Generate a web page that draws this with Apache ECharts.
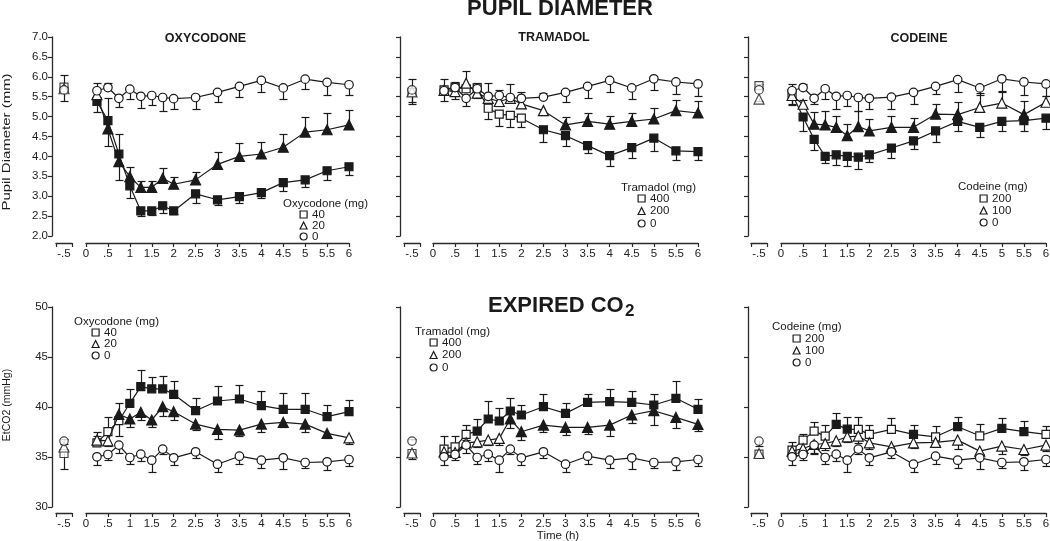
<!DOCTYPE html>
<html><head><meta charset="utf-8">
<script src="https://cdn.jsdelivr.net/npm/echarts@6/dist/echarts.min.js"></script>
<style>html,body{margin:0;padding:0;background:#fff}#c{width:1050px;height:541px}</style>
</head><body><div id="c"></div>
<script>
// ---------- DATA ----------
const TIMES = [0.25, 0.5, 0.75, 1, 1.25, 1.5, 1.75, 2, 2.5, 3, 3.5, 4, 4.5, 5, 5.5, 6];
const BASELINE_TIME = -0.5;
const BASE_LABEL = '-.5';
const X_TICK_LABELS = ['0', '.5', '1', '1.5', '2', '2.5', '3', '3.5', '4', '4.5', '5', '5.5', '6'];
const PUPIL_TICK_LABELS = ['2.0', '2.5', '3.0', '3.5', '4.0', '4.5', '5.0', '5.5', '6.0', '6.5', '7.0'];
const CO2_TICK_LABELS = ['30', '35', '40', '45', '50'];

// Pupil diameter – Oxycodone (40, 20, 0 mg)
const oxyPupil40 = [5.38, 4.90, 4.06, 3.26, 2.63, 2.63, 2.76, 2.63, 3.06, 2.91, 2.99, 3.09, 3.34, 3.41, 3.64, 3.74];
const oxyPupil40Err = [-0.27, 0.56, 0.51, -0.31, -0.13, -0.10, -0.17, -0.08, -0.22, -0.13, -0.15, -0.14, -0.22, -0.17, -0.23, -0.20];
const oxyPupil40Fill = [1, 1, 1, 1, 1, 1, 1, 1, 1, 1, 1, 1, 1, 1, 1, 1];
const oxyPupil20 = [5.55, 4.69, 3.87, 3.49, 3.22, 3.22, 3.45, 3.30, 3.41, 3.80, 4.00, 4.06, 4.23, 4.61, 4.67, 4.79];
const oxyPupil20Err = [-0.15, -0.42, -0.46, 0.24, 0.17, 0.17, 0.25, 0.18, 0.21, 0.30, 0.33, 0.31, 0.33, 0.39, 0.42, 0.38];
const oxyPupil20Fill = [0, 1, 1, 1, 1, 1, 1, 1, 1, 1, 1, 1, 1, 1, 1, 1];
const oxyPupil0 = [5.65, 5.73, 5.46, 5.69, 5.51, 5.53, 5.48, 5.45, 5.48, 5.61, 5.76, 5.91, 5.72, 5.94, 5.86, 5.80];
const oxyPupil0Err = [0.19, 0.12, -0.22, -0.24, -0.30, -0.23, -0.35, -0.26, -0.29, -0.25, -0.28, -0.28, -0.28, -0.25, -0.31, -0.25];
const oxyPupil0Fill = [0, 0, 0, 0, 0, 0, 0, 0, 0, 0, 0, 0, 0, 0, 0, 0];
const oxyPupilBase = [5.74, 5.70, 5.67];
const oxyPupilBaseErr = [0.31, 0.05, -0.29];

// Pupil diameter – Tramadol (400, 200, 0 mg)
const traPupil400 = [5.67, 5.74, 5.70, 5.72, 5.21, 5.06, 5.03, 4.96, 4.67, 4.52, 4.27, 4.02, 4.22, 4.46, 4.14, 4.12];
const traPupil400Err = [0.27, 0.12, 0.10, 0.12, -0.27, -0.29, -0.28, -0.23, -0.30, -0.25, -0.19, -0.26, -0.27, -0.32, -0.23, -0.21];
const traPupil400Fill = [0, 0, 0, 0, 0, 0, 0, 0, 1, 1, 1, 1, 1, 1, 1, 1];
const traPupil200 = [5.66, 5.63, 5.84, 5.59, 5.46, 5.38, 5.46, 5.32, 5.15, 4.79, 4.88, 4.81, 4.88, 4.94, 5.15, 5.09];
const traPupil200Err = [-0.26, -0.18, 0.30, -0.12, -0.10, -0.12, -0.10, -0.10, -0.10, 0.21, 0.21, 0.21, 0.22, 0.27, 0.27, 0.29];
const traPupil200Fill = [0, 0, 0, 0, 0, 0, 0, 0, 0, 1, 1, 1, 1, 1, 1, 1];
const traPupil0 = [5.65, 5.73, 5.46, 5.70, 5.51, 5.53, 5.48, 5.46, 5.49, 5.61, 5.76, 5.91, 5.72, 5.95, 5.87, 5.82];
const traPupil0Err = [0.10, 0.10, -0.20, 0.10, 0.33, 0.13, 0.35, 0.16, 0.10, -0.25, -0.30, -0.28, -0.28, -0.28, -0.30, -0.31];
const traPupil0Fill = [0, 0, 0, 0, 0, 0, 0, 0, 0, 0, 0, 0, 0, 0, 0, 0];
const traPupilBase = [5.61, 5.62, 5.67];
const traPupilBaseErr = [-0.29, -0.25, 0.27];

// Pupil diameter – Codeine (200, 100, 0 mg)
const codPupil200 = [5.57, 4.99, 4.43, 4.00, 4.04, 4.00, 3.98, 4.04, 4.21, 4.39, 4.64, 4.88, 4.73, 4.88, 4.90, 4.96];
const codPupil200Err = [-0.25, -0.36, -0.27, -0.17, -0.25, -0.24, -0.30, -0.19, -0.26, -0.21, -0.27, -0.25, -0.23, -0.23, -0.26, -0.28];
const codPupil200Fill = [0, 1, 1, 1, 1, 1, 1, 1, 1, 1, 1, 1, 1, 1, 1, 1];
const codPupil100 = [5.53, 5.31, 4.81, 4.79, 4.73, 4.52, 4.75, 4.64, 4.73, 4.73, 5.06, 5.05, 5.23, 5.34, 5.05, 5.36];
const codPupil100Err = [-0.23, 0.10, 0.30, 0.34, 0.29, 0.30, 0.38, 0.30, 0.29, 0.23, 0.26, 0.31, 0.36, 0.29, 0.33, 0.16];
const codPupil100Fill = [0, 0, 1, 1, 1, 1, 1, 1, 1, 1, 1, 1, 0, 0, 1, 0];
const codPupil0 = [5.65, 5.73, 5.46, 5.70, 5.51, 5.53, 5.48, 5.46, 5.49, 5.61, 5.76, 5.93, 5.72, 5.95, 5.87, 5.82];
const codPupil0Err = [0.18, 0.10, -0.15, -0.27, -0.31, -0.26, -0.35, -0.28, -0.30, -0.29, -0.20, -0.30, -0.17, -0.30, -0.32, -0.29];
const codPupil0Fill = [0, 0, 0, 0, 0, 0, 0, 0, 0, 0, 0, 0, 0, 0, 0, 0];
const codPupilBase = [5.78, 5.44, 5.67];
const codPupilBaseErr = [0.05, -0.05, 0.05];

// Expired CO2 – Oxycodone (40, 20, 0 mg)
const oxyCo240 = [36.42, 37.53, 38.63, 40.37, 42.04, 41.81, 41.81, 41.27, 39.63, 40.60, 40.80, 40.13, 39.77, 39.77, 39.03, 39.53];
const oxyCo240Err = [0.67, 1.50, -1.51, 1.40, 1.67, 1.23, 1.30, 1.37, 1.24, 1.51, 1.41, 1.48, 1.60, 1.60, 1.17, 1.17];
const oxyCo240Fill = [0, 0, 0, 1, 1, 1, 1, 1, 1, 1, 1, 1, 1, 1, 1, 1];
const oxyCo220 = [36.69, 36.62, 39.26, 38.80, 39.47, 38.70, 40.03, 39.53, 38.29, 37.76, 37.69, 38.29, 38.46, 38.29, 37.36, 36.92];
const oxyCo220Err = [0.84, -0.50, 1.11, -0.84, -0.77, -0.74, -0.93, -0.83, -0.60, -1.00, -0.57, -0.76, -0.50, -0.76, -0.50, -0.57];
const oxyCo220Fill = [0, 0, 1, 1, 1, 1, 1, 1, 1, 1, 1, 1, 1, 1, 1, 0];
const oxyCo20 = [35.02, 35.25, 36.19, 34.95, 35.28, 34.68, 35.79, 34.92, 35.52, 34.28, 35.08, 34.68, 34.92, 34.45, 34.52, 34.75];
const oxyCo20Err = [-0.82, -0.50, -0.74, -0.67, -0.66, -1.17, -0.44, -0.74, -0.60, -0.77, -0.73, -0.73, -1.07, -0.50, -0.84, -0.64];
const oxyCo20Fill = [0, 0, 0, 0, 0, 0, 0, 0, 0, 0, 0, 0, 0, 0, 0, 0];
const oxyCo2Base = [35.35, 36.00, 36.59];
const oxyCo2BaseErr = [-1.50, 0.30, 0.20];

// Expired CO2 – Tramadol (400, 200, 0 mg)
const traCo2400 = [35.79, 36.02, 37.26, 37.59, 38.80, 38.60, 39.60, 39.20, 40.03, 39.36, 40.47, 40.54, 40.47, 40.20, 40.87, 39.77];
const traCo2400Err = [1.33, 1.10, 0.93, 1.21, 1.80, 1.27, 1.27, 1.00, 1.27, 1.01, 0.83, 1.27, 1.17, 1.07, 1.77, 1.03];
const traCo2400Fill = [0, 0, 0, 1, 1, 1, 1, 1, 1, 1, 1, 1, 1, 1, 1, 1];
const traCo2200 = [35.52, 35.45, 36.42, 36.52, 36.69, 36.86, 38.80, 37.53, 38.19, 37.96, 37.96, 38.19, 39.20, 39.63, 38.96, 38.26];
const traCo2200Err = [-0.30, -0.30, 0.30, -0.50, -0.50, -0.67, -0.94, -0.84, -0.66, -0.77, -0.67, -1.07, -0.84, -1.44, -1.10, -0.63];
const traCo2200Fill = [0, 0, 0, 0, 0, 0, 1, 1, 1, 1, 1, 1, 1, 1, 1, 1];
const traCo20 = [35.02, 35.25, 36.19, 34.95, 35.28, 34.68, 35.79, 34.92, 35.52, 34.28, 35.08, 34.68, 34.92, 34.45, 34.52, 34.75];
const traCo20Err = [-0.82, -0.50, -0.74, -0.67, -0.66, -1.17, -0.44, -0.74, -0.60, -0.77, -0.73, -0.73, -1.07, -0.50, -0.84, -0.64];
const traCo20Fill = [0, 0, 0, 0, 0, 0, 0, 0, 0, 0, 0, 0, 0, 0, 0, 0];
const traCo2Base = [35.35, 35.40, 36.59];
const traCo2BaseErr = [-0.50, -0.30, 0.20];

// Expired CO2 – Codeine (200, 100, 0 mg)
const codCo2200 = [35.69, 36.69, 37.59, 37.09, 38.26, 37.79, 37.76, 37.26, 37.76, 37.26, 37.02, 38.03, 37.12, 37.86, 37.53, 37.26];
const codCo2200Err = [0.83, 0.60, 0.87, 1.10, 1.17, 1.17, 1.27, 0.93, 1.10, 0.93, 1.10, 1.00, 1.17, 1.00, 1.07, 0.86];
const codCo2200Fill = [0, 0, 0, 0, 1, 1, 0, 0, 0, 1, 0, 1, 0, 1, 1, 0];
const codCo2100 = [35.59, 35.85, 36.25, 36.35, 36.62, 37.02, 37.09, 36.42, 36.02, 36.42, 36.46, 36.69, 35.59, 36.09, 35.75, 36.19];
const codCo2100Err = [-0.30, -0.50, -0.90, -0.60, -0.50, -0.50, -0.73, -0.63, -0.40, -0.50, -0.30, -0.84, -0.30, -0.74, -0.55, -0.57];
const codCo2100Fill = [0, 0, 0, 0, 0, 0, 0, 0, 0, 0, 0, 0, 0, 0, 0, 0];
const codCo20 = [35.02, 35.25, 36.19, 34.95, 35.28, 34.68, 35.79, 34.92, 35.52, 34.28, 35.08, 34.68, 34.92, 34.45, 34.52, 34.75];
const codCo20Err = [-0.82, -0.50, -0.74, -0.67, -0.66, -1.17, -0.44, -0.74, -0.60, -0.77, -0.73, -0.73, -1.07, -0.50, -0.84, -0.64];
const codCo20Fill = [0, 0, 0, 0, 0, 0, 0, 0, 0, 0, 0, 0, 0, 0, 0, 0];
const codCo2Base = [35.28, 35.35, 36.59];
const codCo2BaseErr = [-0.20, -0.20, -0.45];

// Dose labels and texts
const OXY_DOSES = ['40', '20', '0'];
const TRA_DOSES = ['400', '200', '0'];
const COD_DOSES = ['200', '100', '0'];
const DRUG_TITLES = ['OXYCODONE', 'TRAMADOL', 'CODEINE'];
const LEGEND_TITLES = ['Oxycodone (mg)', 'Tramadol (mg)', 'Codeine (mg)'];

// ---------- BUILD ----------
const FONT = '"Liberation Sans", Arial, Helvetica, sans-serif';
const INK = '#1a1a1a';
const AXC = '#2a2a2a';
const SYMS = ['rect', 'triangle', 'circle'];
const SYM_SIZE = { rect: 8, triangle: 10, circle: 8.5 };

const cols = [
  { baseLeft: 56, mainLeft: 86, mainWidth: 263, yOff: 4, yLabels: true },
  { baseLeft: 404, mainLeft: 433, mainWidth: 265, yOff: 4, yLabels: false },
  { baseLeft: 751, mainLeft: 781, mainWidth: 265, yOff: 3, yLabels: false }
];
const rows = [
  { top: 37, height: 199, xOff: 7, min: 2, max: 7, interval: 0.5, labels: PUPIL_TICK_LABELS },
  { top: 307, height: 200, xOff: 6, min: 30, max: 50, interval: 5, labels: CO2_TICK_LABELS }
];

function grp(name, dose, vals, err, fill) { return { name, dose, vals, err, fill }; }
const panels = [
  { doses: OXY_DOSES, base: oxyPupilBase, baseErr: oxyPupilBaseErr, legend: { left: 299.5, top: 208.5, gap: -1, tx: 283, ty: 204 },
    groups: [grp('oxyP40', '40', oxyPupil40, oxyPupil40Err, oxyPupil40Fill), grp('oxyP20', '20', oxyPupil20, oxyPupil20Err, oxyPupil20Fill), grp('oxyP0', '0', oxyPupil0, oxyPupil0Err, oxyPupil0Fill)] },
  { doses: TRA_DOSES, base: traPupilBase, baseErr: traPupilBaseErr, legend: { left: 637.5, top: 192.5, gap: 0.5, tx: 621, ty: 188 },
    groups: [grp('traP400', '400', traPupil400, traPupil400Err, traPupil400Fill), grp('traP200', '200', traPupil200, traPupil200Err, traPupil200Fill), grp('traP0', '0', traPupil0, traPupil0Err, traPupil0Fill)] },
  { doses: COD_DOSES, base: codPupilBase, baseErr: codPupilBaseErr, legend: { left: 979.5, top: 192.5, gap: 0, tx: 958, ty: 187 },
    groups: [grp('codP200', '200', codPupil200, codPupil200Err, codPupil200Fill), grp('codP100', '100', codPupil100, codPupil100Err, codPupil100Fill), grp('codP0', '0', codPupil0, codPupil0Err, codPupil0Fill)] },
  { doses: OXY_DOSES, base: oxyCo2Base, baseErr: oxyCo2BaseErr, legend: { left: 91.5, top: 326.5, gap: -0.5, tx: 74, ty: 322 },
    groups: [grp('oxyC40', '40', oxyCo240, oxyCo240Err, oxyCo240Fill), grp('oxyC20', '20', oxyCo220, oxyCo220Err, oxyCo220Fill), grp('oxyC0', '0', oxyCo20, oxyCo20Err, oxyCo20Fill)] },
  { doses: TRA_DOSES, base: traCo2Base, baseErr: traCo2BaseErr, legend: { left: 429.5, top: 336.5, gap: 0.5, tx: 415, ty: 332 },
    groups: [grp('traC400', '400', traCo2400, traCo2400Err, traCo2400Fill), grp('traC200', '200', traCo2200, traCo2200Err, traCo2200Fill), grp('traC0', '0', traCo20, traCo20Err, traCo20Fill)] },
  { doses: COD_DOSES, base: codCo2Base, baseErr: codCo2BaseErr, legend: { left: 792.5, top: 332.5, gap: 0, tx: 772, ty: 327 },
    groups: [grp('codC200', '200', codCo2200, codCo2200Err, codCo2200Fill), grp('codC100', '100', codCo2100, codCo2100Err, codCo2100Fill), grp('codC0', '0', codCo20, codCo20Err, codCo20Fill)] }
];

function errRender(params, api) {
  const x = api.value(0), y = api.value(1), e = api.value(2);
  const p0 = api.coord([x, y]);
  const p1 = api.coord([x, y + e]);
  const cx = Math.round(p0[0]) + 0.5;
  const y0 = p0[1], y1 = Math.round(p1[1]) + 0.5;
  const hw = 4;
  return {
    type: 'group',
    children: [
      { type: 'line', shape: { x1: cx, y1: y0, x2: cx, y2: y1 }, style: { stroke: INK, lineWidth: 1.2 } },
      { type: 'line', shape: { x1: cx - hw, y1: y1, x2: cx + hw, y2: y1 }, style: { stroke: INK, lineWidth: 1.2 } }
    ]
  };
}

const grids = [], xAxes = [], yAxes = [], series = [], legends = [], graphics = [];
const nameMap = {};
const axisLine = { show: true, onZero: false, lineStyle: { color: AXC, width: 1.3 } };
const axisTick = { show: true, inside: false, length: 4, lineStyle: { color: AXC, width: 1.2 } };
const labelStyle = { color: '#222', fontSize: 11.5, fontFamily: FONT };

panels.forEach((p, i) => {
  const r = rows[Math.floor(i / 3)], c = cols[i % 3];
  const gB = grids.length;
  grids.push({ left: c.baseLeft, top: r.top, width: 16, height: r.height, outerBoundsMode: 'none', containLabel: false });
  const gM = grids.length;
  grids.push({ left: c.mainLeft, top: r.top, width: c.mainWidth, height: r.height, outerBoundsMode: 'none', containLabel: false });

  // baseline x segment
  xAxes.push({ gridIndex: gB, type: 'value', min: -0.75, max: -0.25, offset: r.xOff, axisLine,
    axisTick: Object.assign({ customValues: [-0.75, -0.25] }, axisTick),
    axisLabel: Object.assign({ customValues: [BASELINE_TIME], margin: 5, formatter: () => BASE_LABEL }, labelStyle),
    splitLine: { show: false } });
  // main time axis
  xAxes.push({ gridIndex: gM, type: 'value', min: 0, max: 6, interval: 0.5, offset: r.xOff, axisLine, axisTick,
    axisLabel: Object.assign({ margin: 5, showMinLabel: true, showMaxLabel: true, formatter: v => X_TICK_LABELS[Math.round(v / 0.5)] }, labelStyle),
    splitLine: { show: false } });
  // y axes
  yAxes.push({ gridIndex: gB, type: 'value', min: r.min, max: r.max, interval: r.interval, offset: c.yOff, axisLine, axisTick,
    axisLabel: Object.assign({ show: c.yLabels, margin: 4, formatter: v => r.labels[Math.round((v - r.min) / r.interval)] }, labelStyle),
    splitLine: { show: false } });
  yAxes.push({ gridIndex: gM, type: 'value', min: r.min, max: r.max, interval: r.interval, show: false, splitLine: { show: false } });

  const xB = xAxes.length - 2, xM = xAxes.length - 1, yB = yAxes.length - 2, yM = yAxes.length - 1;

  // error bars
  series.push({ type: 'custom', xAxisIndex: xM, yAxisIndex: yM, z: 1, silent: true, renderItem: errRender,
    encode: { x: 0, y: 1 },
    data: p.groups.flatMap(g => TIMES.map((t, k) => [t, g.vals[k], g.err[k]])) });
  series.push({ type: 'custom', xAxisIndex: xB, yAxisIndex: yB, z: 1, silent: true, renderItem: errRender,
    encode: { x: 0, y: 1 },
    data: p.base.map((v, k) => [BASELINE_TIME, v, p.baseErr[k]]) });

  p.groups.forEach((g, k) => {
    nameMap[g.name] = g.dose;
    const sym = SYMS[k];
    series.push({
      type: 'line', name: g.name, xAxisIndex: xM, yAxisIndex: yM, z: 2 + k, silent: true,
      symbol: sym, symbolSize: SYM_SIZE[sym], showSymbol: true, showAllSymbol: true,
      lineStyle: { color: INK, width: 1.2 },
      itemStyle: { color: '#fff', borderColor: INK, borderWidth: 1.2 },
      emphasis: { disabled: true },
      data: TIMES.map((t, j) => ({ value: [t, g.vals[j]], itemStyle: { color: g.fill[j] ? INK : '#fff' } }))
    });
    series.push({
      type: 'scatter', name: g.name + '_base', xAxisIndex: xB, yAxisIndex: yB, z: 2 + k, silent: true,
      symbol: sym, symbolSize: SYM_SIZE[sym],
      itemStyle: { color: '#fff', borderColor: INK, borderWidth: 1.2 },
      emphasis: { disabled: true },
      data: [[BASELINE_TIME, p.base[k]]]
    });
  });

  legends.push({
    orient: 'vertical', left: p.legend.left, top: p.legend.top, itemWidth: 7, itemHeight: 7, itemGap: p.legend.gap,
    padding: 0, selectedMode: false, icon: 'rect',
    textStyle: { fontSize: 11.5, color: INK, fontFamily: FONT },
    itemStyle: { color: '#fff', borderColor: INK, borderWidth: 1.2 },
    data: p.groups.map((g, k) => ({ name: g.name, icon: SYMS[k] })),
    formatter: n => nameMap[n]
  });
  graphics.push({ type: 'text', x: p.legend.tx, y: p.legend.ty,
    style: { text: LEGEND_TITLES[i % 3], fontSize: 11.5, fontFamily: FONT, fill: INK, align: 'left', verticalAlign: 'middle' } });
});

// titles and axis names
const T = (text, x, y, size, weight, align, extra) => Object.assign({ type: 'text', x, y,
  style: { text, fontSize: size, fontWeight: weight, fontFamily: FONT, fill: INK, align, verticalAlign: 'middle' } }, extra || {});
graphics.push(T('PUPIL DIAMETER', 560, 9, 22, 'bold', 'center'));
graphics.push(T('EXPIRED CO', 488, 306, 22, 'bold', 'left'));
graphics.push(T('2', 625, 311.5, 17, 'bold', 'left'));
graphics.push(T(DRUG_TITLES[0], 205.5, 39, 12.5, 'bold', 'center'));
graphics.push(T(DRUG_TITLES[1], 554, 37.5, 12.5, 'bold', 'center'));
graphics.push(T(DRUG_TITLES[2], 919, 38.5, 12.5, 'bold', 'center'));
graphics.push(T('Time (h)', 558, 535.5, 11.5, 'normal', 'center'));
graphics.push(T('Pupil Diameter (mm)', 7, 142, 11, 'normal', 'center', { rotation: Math.PI / 2, scaleX: 1.36 }));
graphics.push(T('EtCO2 (mmHg)', 7, 405, 10.5, 'normal', 'center', { rotation: Math.PI / 2 }));

const chart = echarts.init(document.getElementById('c'), null, { renderer: 'canvas' });
chart.setOption({
  animation: false,
  backgroundColor: '#fff',
  grid: grids, xAxis: xAxes, yAxis: yAxes, series, legend: legends,
  graphic: { elements: graphics },
  tooltip: { show: false }
});
</script></body></html>
